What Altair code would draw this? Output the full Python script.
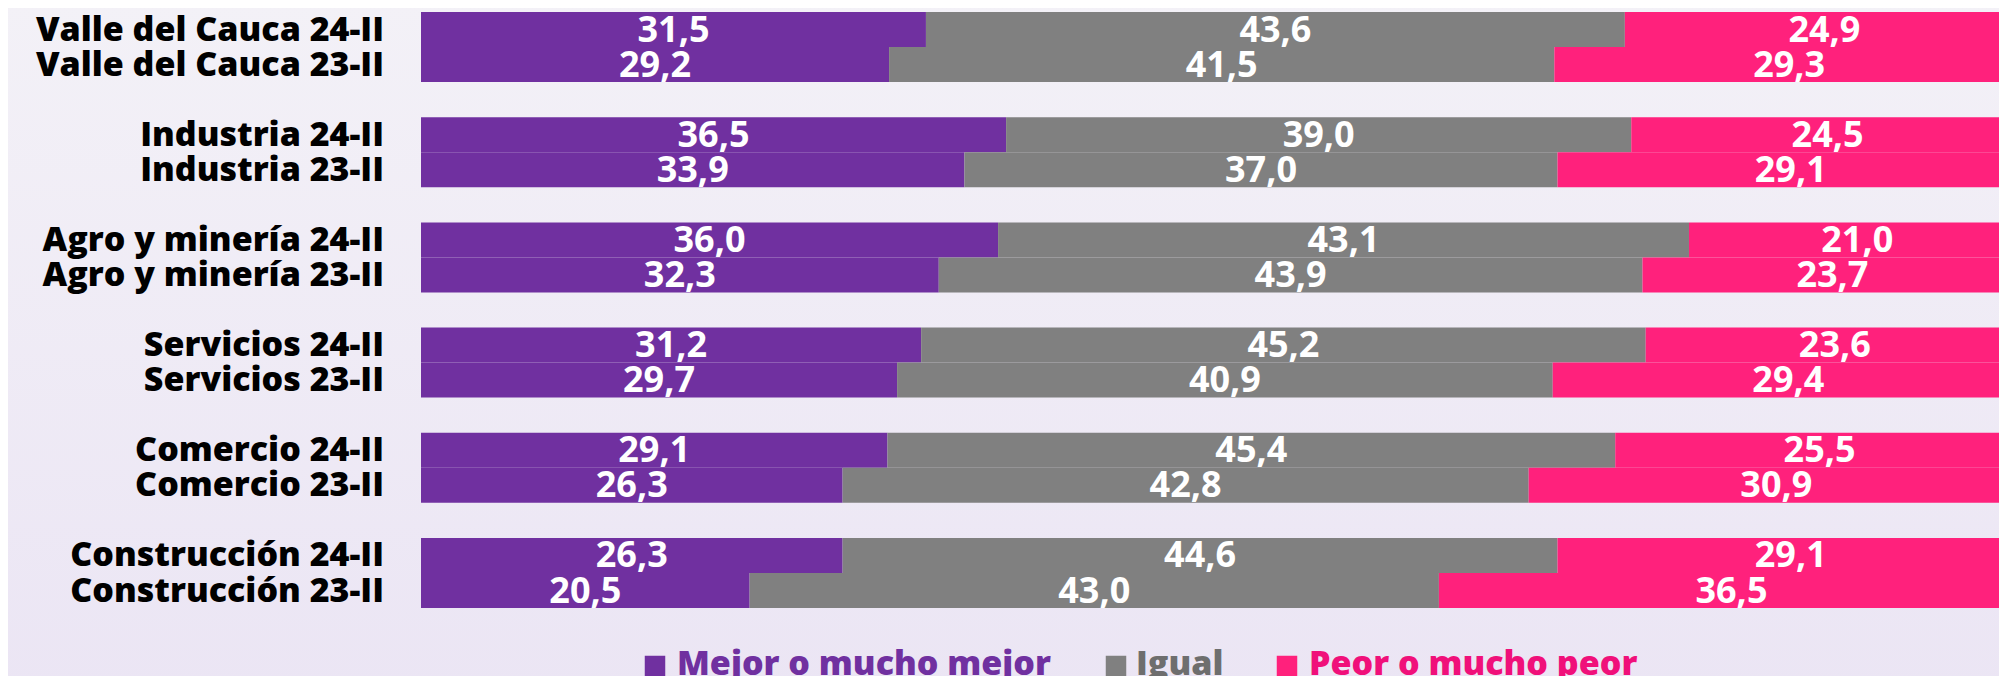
import altair as alt
import pandas as pd

# ---------------- data ----------------
groups = ["Valle del Cauca", "Industria", "Agro y minería", "Servicios", "Comercio", "Construcción"]
periods = ["24-II", "23-II"]
categories = ["Mejor o mucho mejor", "Igual", "Peor o mucho peor"]
colors = ["#7030a0", "#808080", "#ff217c"]
legend_text_colors = ["#7030a0", "#6e6e6e", "#f0107a"]

mejor_24 = [31.5, 36.5, 36.0, 31.2, 29.1, 26.3]
igual_24 = [43.6, 39.0, 43.1, 45.2, 45.4, 44.6]
peor_24 = [24.9, 24.5, 21.0, 23.6, 25.5, 29.1]
mejor_23 = [29.2, 33.9, 32.3, 29.7, 26.3, 20.5]
igual_23 = [41.5, 37.0, 43.9, 40.9, 42.8, 43.0]
peor_23 = [29.3, 29.1, 23.7, 29.4, 30.9, 36.5]

series = {
    "24-II": [mejor_24, igual_24, peor_24],
    "23-II": [mejor_23, igual_23, peor_23],
}

rows = []
for gi, g in enumerate(groups):
    for p in periods:
        for ci, c in enumerate(categories):
            v = series[p][ci][gi]
            rows.append({
                "group": g,
                "period": p,
                "cat": c,
                "ord": ci,
                "value": v,
                "label": f"{v:.1f}".replace(".", ","),
                "rowlabel": f"{g} {p}",
            })
df = pd.DataFrame(rows)
rowlabels = df.drop_duplicates(["group", "period"])[["group", "period", "rowlabel"]]

# ---------------- layout ----------------
W = 1578
H = 596
X_MAX = 98.44  # right part of the bars is cut off by the frame, as in the original

y_enc = alt.Y("group:N", sort=groups, axis=None,
              scale=alt.Scale(paddingInner=0.3346, paddingOuter=0))
yoff_enc = alt.YOffset("period:N", sort=periods,
                       scale=alt.Scale(paddingInner=0, paddingOuter=0))
x_scale = alt.Scale(domain=[0, X_MAX], nice=False, zero=True)

bg = alt.Chart(pd.DataFrame({"a": [0]})).mark_rect(
    color=alt.LinearGradient(
        gradient="linear", x1=0, y1=0, x2=0, y2=1,
        stops=[alt.GradientStop(color="#f3f1f7", offset=0),
               alt.GradientStop(color="#ebe5f4", offset=1)]
    ),
    clip=False,
).encode(
    x=alt.value(-420), x2=alt.value(W + 10),
    y=alt.value(-10), y2=alt.value(H + 90),
)

bars = alt.Chart(df).mark_bar(clip=True, strokeWidth=0).encode(
    y=y_enc,
    yOffset=yoff_enc,
    x=alt.X("value:Q", stack="zero", scale=x_scale, axis=None),
    color=alt.Color("cat:N", scale=alt.Scale(domain=categories, range=colors), legend=None),
    order=alt.Order("ord:Q"),
)

values = alt.Chart(df).transform_window(
    cum="sum(value)", groupby=["group", "period"], sort=[alt.SortField("ord")],
    frame=[None, 0],
).transform_calculate(
    mid="datum.cum - datum.value / 2"
).mark_text(
    font="Open Sans", fontWeight="bold", fontSize=36, color="white",
    baseline="middle", align="center", dy=1,
).encode(
    y=y_enc,
    yOffset=yoff_enc,
    x=alt.X("mid:Q", scale=x_scale, axis=None),
    text="label:N",
)

row_text = alt.Chart(rowlabels).mark_text(
    font="Open Sans", fontWeight=800, fontSize=34, color="#000000",
    align="right", baseline="middle", dy=1,
).encode(
    y=y_enc,
    yOffset=yoff_enc,
    x=alt.value(-37),
    text="rowlabel:N",
)

# manual legend (coloured labels)
legend_layers = []
sq_x = [234, 695, 866]
tx_x = [256, 715, 888]
for i, c in enumerate(categories):
    ld = pd.DataFrame({"cat": [c]})
    legend_layers.append(
        alt.Chart(ld).mark_square(size=420, color=colors[i], opacity=1, clip=False).encode(
            x=alt.value(sq_x[i]), y=alt.value(H + 58)
        )
    )
    legend_layers.append(
        alt.Chart(ld).mark_text(
            font="Open Sans", fontWeight=800, fontSize=34, color=legend_text_colors[i],
            align="left", baseline="alphabetic", clip=False,
        ).encode(x=alt.value(tx_x[i]), y=alt.value(H + 67), text="cat:N")
    )

chart = alt.layer(bg, bars, values, row_text, *legend_layers).properties(
    width=W, height=H,
    autosize=alt.AutoSizeParams(type="none"),
    padding={"left": 413, "top": 4, "right": 0, "bottom": 68},
    background="#efebf6",
).configure_view(stroke=None)

chart.save("out.html", embed_options={"renderer": "svg", "actions": False})
